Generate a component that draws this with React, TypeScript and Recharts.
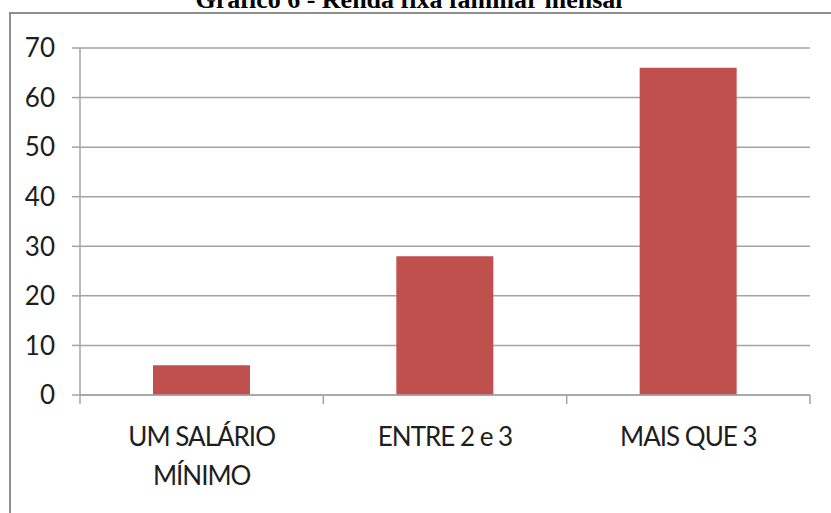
import { Bar, BarChart, CartesianGrid, XAxis, YAxis } from "recharts"

// Renda fixa familiar mensal (%)
const faixas = ["UM SALÁRIO MÍNIMO", "ENTRE 2 e 3", "MAIS QUE 3"]
const percentuais = [6, 28, 66]
const yTicks = [0, 10, 20, 30, 40, 50, 60, 70]

const rows = faixas.map((faixa, i) => ({ faixa, valor: percentuais[i] }))

const gridCor = "#a3a3a3"
const textoCor = "#1e1e1e"
const fonte = "Lato, 'Open Sans', sans-serif"

const pagina: React.CSSProperties = {
	position: "absolute",
	left: 0,
	top: 0,
	width: 831,
	height: 513,
	background: "#fff",
	overflow: "hidden",
}

// moldura cinza em volta do gráfico
const moldura: React.CSSProperties = {
	position: "absolute",
	left: 9,
	top: 12,
	width: 840,
	height: 520,
	border: "2px solid #8e8e8e",
	boxSizing: "border-box",
}

const titulo: React.CSSProperties = {
	position: "absolute",
	left: 0,
	width: 818,
	top: -15,
	textAlign: "center",
	fontFamily: "'Liberation Serif', 'Times New Roman', serif",
	fontWeight: "bold",
	fontSize: 26,
	lineHeight: "30px",
	color: "#000",
	whiteSpace: "nowrap",
}

const camadaGrafico: React.CSSProperties = { position: "absolute", left: 0, top: 0 }
const margem = { top: 48, right: 21, left: 0, bottom: 38 }
const linhaEixo = { stroke: gridCor, strokeWidth: 1.5 }
const yTickStyle = { fill: textoCor, fontFamily: fonte, fontSize: 26 }

// quebra "UM SALÁRIO MÍNIMO" em duas linhas como no Excel
function quebra(label: string) {
	if (label === "UM SALÁRIO MÍNIMO") return ["UM SALÁRIO", "MÍNIMO"]
	return [label]
}

function CategoriaTick(props: any) {
	const { x, y, payload, width, visibleTicksCount, index } = props
	const banda = width / visibleTicksCount
	const eixoY = y - 10
	const linhas = quebra(String(payload.value))
	return (
		<g>
			{/* marcas do eixo nas divisas entre categorias */}
			<line x1={x + banda / 2} x2={x + banda / 2} y1={eixoY} y2={eixoY + 9} stroke={gridCor} strokeWidth={1.5} />
			{index === 0 && (
				<line x1={x - banda / 2} x2={x - banda / 2} y1={eixoY} y2={eixoY + 9} stroke={gridCor} strokeWidth={1.5} />
			)}
			<text
				x={x}
				y={eixoY + 51}
				textAnchor="middle"
				fill={textoCor}
				fontFamily={fonte}
				fontSize={26}
				letterSpacing={-1}
			>
				{linhas.map((l, i) => (
					<tspan key={i} x={x} dy={i === 0 ? 0 : 39}>
						{l}
					</tspan>
				))}
			</text>
		</g>
	)
}

export default function App() {
	return (
		<div style={pagina}>
			<div style={moldura} />
			<div style={titulo}>Gráfico 6 - Renda fixa familiar mensal</div>
			<div style={camadaGrafico}>
				<BarChart width={831} height={513} data={rows} barCategoryGap="30%" margin={margem}>
					<CartesianGrid vertical={false} stroke={gridCor} strokeWidth={1.5} />
					<XAxis
						dataKey="faixa"
						height={80}
						axisLine={linhaEixo}
						tickLine={false}
						tickSize={0}
						tickMargin={10}
						interval={0}
						tick={<CategoriaTick />}
					/>
					<YAxis
						width={80}
						domain={[0, 70]}
						ticks={yTicks}
						interval={0}
						axisLine={linhaEixo}
						tickLine={linhaEixo}
						tickSize={8}
						tickMargin={17}
						tick={yTickStyle}
					/>
					<Bar dataKey="valor" fill="#c0504d" isAnimationActive={false} />
				</BarChart>
			</div>
		</div>
	)
}
